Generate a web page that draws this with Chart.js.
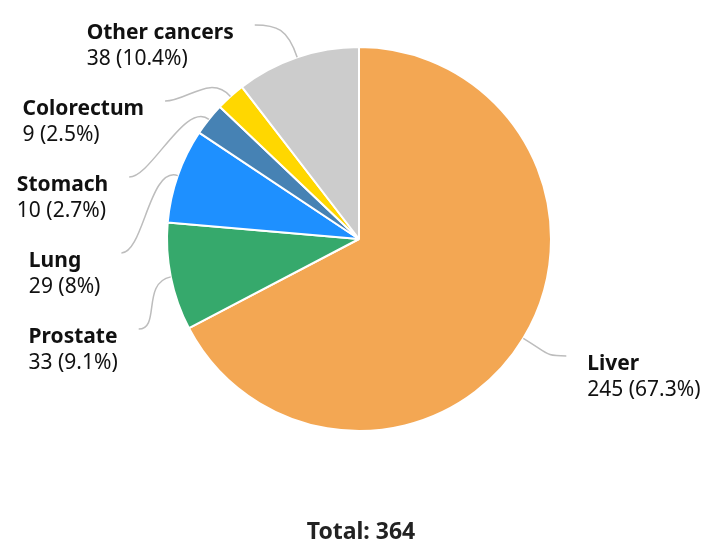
<!DOCTYPE html>
<html lang="en">
<head>
    <meta charset="UTF-8">
    <title>Cancer cases</title>
    <script src="https://cdn.jsdelivr.net/npm/chart.js"></script>
    <style>
        html, body { margin: 0; padding: 0; background: #fff; }
        #wrap { width: 704px; height: 543px; position: relative; }
    </style>
</head>
<body>
    <div id="wrap">
        <canvas id="pieChart" width="704" height="543"></canvas>
    </div>

    <script>
        // chart data
        const categories = ['Liver', 'Prostate', 'Lung', 'Stomach', 'Colorectum', 'Other cancers'];
        const cases = [245, 33, 29, 10, 9, 38];
        const sliceColors = ['#F3A753', '#36A96C', '#1E90FF', '#4682B4', '#FFD700', '#CCCCCC'];

        const total = cases.reduce((a, b) => a + b, 0);
        const FONT = '"Noto Sans", "Open Sans", sans-serif';

        function pctText(v) {
            let p = (v / total * 100).toFixed(1);
            if (p.endsWith('.0')) p = p.slice(0, -2);
            return v + ' (' + p + '%)';
        }

        // draws the outside labels with curved leader lines
        const outsideLabels = {
            id: 'outsideLabels',
            afterDraw(chart) {
                const ctx = chart.ctx;
                const arcs = chart.getDatasetMeta(0).data;
                const gap = 76, lineOut = 34, endR = 46, textGap = 21;
                let left = [], right = [];

                arcs.forEach((arc, i) => {
                    const mid = (arc.startAngle + arc.endAngle) / 2;
                    const r = arc.outerRadius;
                    const item = {
                        i, mid, r, cx: arc.x, cy: arc.y,
                        sx: arc.x + Math.cos(mid) * r,
                        sy: arc.y + Math.sin(mid) * r,
                        y: arc.y + Math.sin(mid) * (r + lineOut)
                    };
                    (Math.cos(mid) < 0 ? left : right).push(item);
                });

                [left, right].forEach(side => {
                    side.sort((a, b) => a.y - b.y);
                    for (let k = 1; k < side.length; k++) {
                        if (side[k].y < side[k - 1].y + gap) side[k].y = side[k - 1].y + gap;
                    }
                });

                const draw = (it, dir) => {
                    const R = it.r + endR;
                    const dy = it.y - it.cy;
                    const ex = it.cx + dir * Math.sqrt(Math.max(0, R * R - dy * dy));
                    const ey = it.y;
                    const c1x = it.cx + Math.cos(it.mid) * (it.r + 30);
                    const c1y = it.cy + Math.sin(it.mid) * (it.r + 30);

                    ctx.save();
                    ctx.strokeStyle = '#BDBDBD';
                    ctx.lineWidth = 1.5;
                    ctx.beginPath();
                    ctx.moveTo(it.sx, it.sy);
                    ctx.bezierCurveTo(c1x, c1y, ex - dir * 22, ey, ex, ey);
                    ctx.stroke();

                    const title = categories[it.i];
                    const sub = pctText(cases[it.i]);
                    ctx.font = 'bold 21px ' + FONT;
                    const w1 = ctx.measureText(title).width;
                    ctx.font = '21px ' + FONT;
                    const w2 = ctx.measureText(sub).width;
                    const bw = Math.max(w1, w2);
                    const tx = dir > 0 ? ex + textGap : ex - textGap - bw;

                    ctx.fillStyle = '#111111';
                    ctx.textAlign = 'left';
                    ctx.textBaseline = 'alphabetic';
                    ctx.font = 'bold 21px ' + FONT;
                    ctx.fillText(title, tx, ey + 14);
                    ctx.font = '21px ' + FONT;
                    ctx.fillText(sub, tx, ey + 40);
                    ctx.restore();
                };

                left.forEach(it => draw(it, -1));
                right.forEach(it => draw(it, 1));

                // total under the pie
                ctx.save();
                ctx.font = 'bold 23px ' + FONT;
                ctx.fillStyle = '#222222';
                ctx.textAlign = 'center';
                ctx.textBaseline = 'alphabetic';
                ctx.fillText('Total: ' + total, arcs[0].x + 2, 539);
                ctx.restore();
            }
        };

        const ctx = document.getElementById('pieChart').getContext('2d');
        const pieChart = new Chart(ctx, {
            type: 'pie',
            data: {
                labels: categories,
                datasets: [{
                    data: cases,
                    backgroundColor: sliceColors,
                    borderColor: '#FFFFFF',
                    borderWidth: 2
                }]
            },
            options: {
                responsive: false,
                animation: false,
                layout: {
                    padding: { top: 46, bottom: 111, left: 166, right: 152 }
                },
                plugins: {
                    legend: { display: false },
                    tooltip: { enabled: false }
                }
            },
            plugins: [outsideLabels]
        });
    </script>
</body>
</html>
